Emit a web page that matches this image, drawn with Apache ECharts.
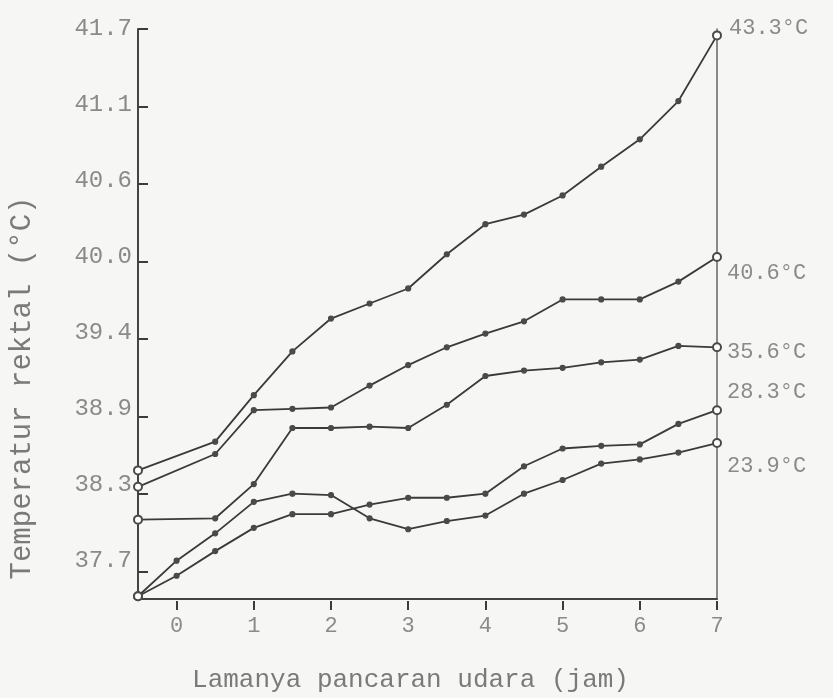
<!DOCTYPE html>
<html>
<head>
<meta charset="utf-8">
<script src="https://cdn.jsdelivr.net/npm/echarts@6/dist/echarts.min.js"></script>
<style>
  html, body { margin: 0; padding: 0; background: #f6f6f4; }
  #main { width: 833px; height: 698px; }
</style>
</head>
<body>
<div id="main"></div>
<script>
// hours of exposure (half-hour steps), null = no reading at that time
var hours = [-0.5, 0, 0.5, 1, 1.5, 2, 2.5, 3, 3.5, 4, 4.5, 5, 5.5, 6, 6.5, 7];

// rectal temperature (°C), one series per air temperature
var air433 = [38.44, null, 38.65, 38.99, 39.31, 39.55, 39.66, 39.77, 40.02, 40.24, 40.31, 40.45, 40.66, 40.86, 41.14, 41.62];
var air406 = [38.32, null, 38.56, 38.88, 38.89, 38.90, 39.06, 39.21, 39.34, 39.44, 39.53, 39.69, 39.69, 39.69, 39.82, 40.00];
var air356 = [38.08, null, 38.09, 38.34, 38.75, 38.75, 38.76, 38.75, 38.92, 39.13, 39.17, 39.19, 39.23, 39.25, 39.35, 39.34];
var air283 = [37.52, 37.67, 37.85, 38.02, 38.12, 38.12, 38.19, 38.24, 38.24, 38.27, 38.47, 38.60, 38.62, 38.63, 38.78, 38.88];
var air239 = [37.52, 37.78, 37.98, 38.21, 38.27, 38.26, 38.09, 38.01, 38.07, 38.11, 38.27, 38.37, 38.49, 38.52, 38.57, 38.64];

var airLabels = ["43.3°C", "40.6°C", "35.6°C", "28.3°C", "23.9°C"];

// y ticks sit on whole °F degrees (100..107 °F), labelled in °C
var yTickF = [100, 101, 102, 103, 104, 105, 106, 107];
var yTickLabels = ["37.7", "38.3", "38.9", "39.4", "40.0", "40.6", "41.1", "41.7"];
var xTicks = [0, 1, 2, 3, 4, 5, 6, 7];

var fToC = function (f) { return (f - 32) * 5 / 9; };
var yTickC = yTickF.map(fToC);
var yMin = fToC(99.5);
var yMax = fToC(107);

var font = "'Liberation Mono', 'DejaVu Sans Mono', monospace";
var textGray = "#8a8a8a";
var lineColor = "#3a3a3a";

// label offsets for the air-temperature labels at the right end
var labelOffsets = [[12, -7], [10, 16], [10, 5], [10, -18], [10, 23]];

var allSeries = [air433, air406, air356, air283, air239];

var series = allSeries.map(function (vals, i) {
  var pts = [];
  hours.forEach(function (h, j) {
    if (vals[j] !== null) pts.push([h, vals[j]]);
  });
  var data = pts.map(function (p, k) {
    var edge = k === 0 || k === pts.length - 1;
    return {
      value: p,
      symbol: edge ? "emptyCircle" : "circle",
      symbolSize: edge ? 8 : 5
    };
  });
  return {
    type: "line",
    data: data,
    lineStyle: { color: lineColor, width: 1.8 },
    itemStyle: { color: "#4a4a4a", borderColor: "#4a4a4a", borderWidth: 1.2 },
    endLabel: {
      show: true,
      formatter: airLabels[i],
      distance: 0,
      offset: labelOffsets[i],
      fontFamily: font,
      fontSize: 22,
      color: textGray
    },
    silent: true
  };
});

var grid = { left: 138, right: 116, top: 29, bottom: 88 };

var chartDom = document.getElementById("main");
var myChart = echarts.init(chartDom);
var option;

option = {
  backgroundColor: "#f6f6f4",
  animation: false,
  grid: [grid, Object.assign({}, grid)],
  xAxis: [
    {
      type: "value",
      min: -0.5,
      max: 7,
      name: "Lamanya pancaran udara (jam)",
      nameLocation: "middle",
      nameGap: 68,
      nameTextStyle: { fontFamily: font, fontSize: 26, color: "#7a7a7a", padding: [0, 34, 0, 0] },
      axisLine: { show: true, onZero: false, lineStyle: { color: "#444", width: 2 } },
      axisTick: { show: false },
      axisLabel: { customValues: xTicks, fontFamily: font, fontSize: 22, color: textGray, margin: 16 },
      splitLine: { show: false }
    },
    {
      // tick-only copy of the x axis (inward ticks)
      gridIndex: 1,
      type: "value",
      min: -0.5,
      max: 7,
      axisLine: { show: false, onZero: false },
      axisTick: { show: true, inside: true, length: 9, customValues: xTicks, lineStyle: { color: "#3c3c3c", width: 2 } },
      axisLabel: { customValues: xTicks, color: "rgba(0,0,0,0)" },
      splitLine: { show: false }
    }
  ],
  yAxis: [
    {
      type: "value",
      min: yMin,
      max: yMax,
      axisLine: { show: true, onZero: false, lineStyle: { color: "#444", width: 2 } },
      axisTick: { show: false },
      axisLabel: {
        customValues: yTickC,
        fontFamily: font,
        fontSize: 24,
        color: textGray,
        margin: 6,
        formatter: function (v) {
          var best = 0;
          yTickC.forEach(function (t, i) {
            if (Math.abs(t - v) < Math.abs(yTickC[best] - v)) best = i;
          });
          return yTickLabels[best];
        }
      },
      splitLine: { show: false }
    },
    {
      type: "value",
      position: "right",
      min: yMin,
      max: yMax,
      axisLine: { show: true, onZero: false, lineStyle: { color: "#666", width: 1.5 } },
      axisTick: { show: false },
      axisLabel: { show: false },
      splitLine: { show: false }
    },
    {
      // tick-only copy of the left axis (inward ticks)
      gridIndex: 1,
      type: "value",
      min: yMin,
      max: yMax,
      axisLine: { show: false, onZero: false },
      axisTick: { show: true, inside: true, length: 10, customValues: yTickC, lineStyle: { color: "#3c3c3c", width: 2 } },
      axisLabel: { customValues: yTickC, color: "rgba(0,0,0,0)" },
      splitLine: { show: false }
    }
  ],
  graphic: [
    {
      type: "text",
      x: 22,
      y: 388,
      rotation: Math.PI / 2,
      style: {
        text: "Temperatur rektal (°C)",
        font: "29px " + font,
        fill: "#7a7a7a",
        align: "center",
        verticalAlign: "middle"
      }
    }
  ],
  series: series
};

option && myChart.setOption(option);
</script>
</body>
</html>
